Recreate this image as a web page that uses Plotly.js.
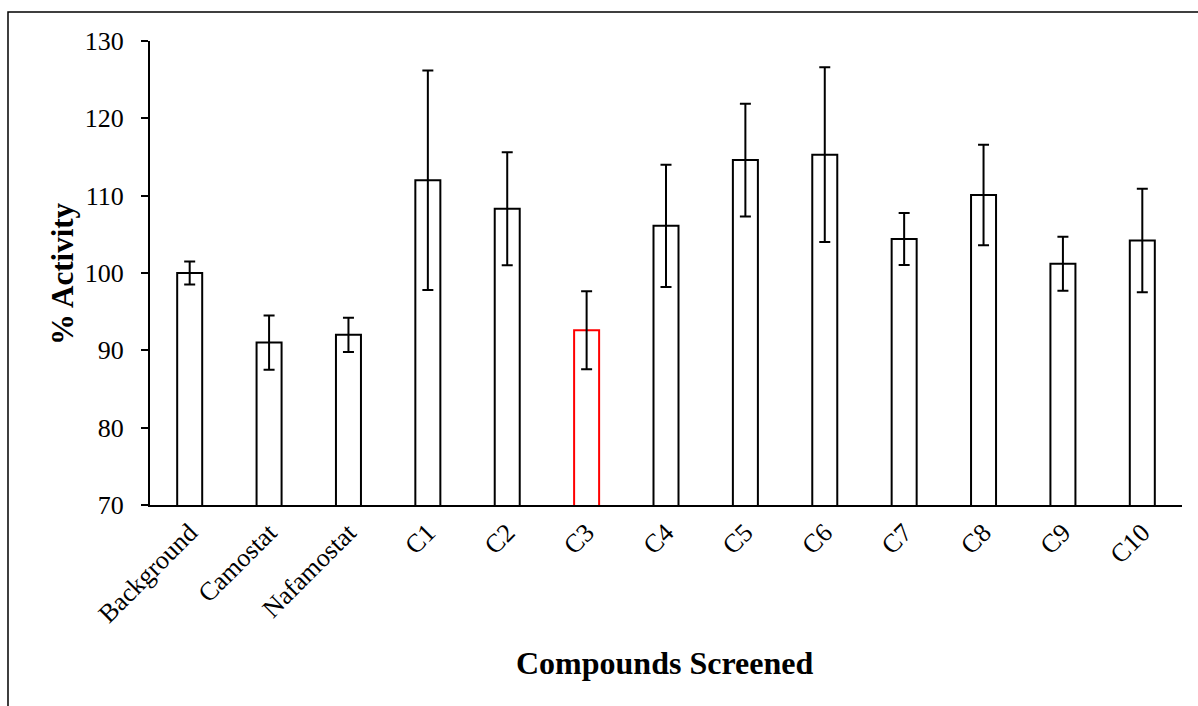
<!DOCTYPE html>
<html>
<head>
<meta charset="utf-8">
<script src="https://cdn.plot.ly/plotly-3.0.1.min.js"></script>
<style>
  html, body { margin: 0; padding: 0; background: #fff; }
  #chart { width: 1198px; height: 706px; }
</style>
</head>
<body>
<div id="chart"></div>
<script>
const categories = ["Background", "Camostat", "Nafamostat", "C1", "C2", "C3", "C4", "C5", "C6", "C7", "C8", "C9", "C10"];
const activity = [100.0, 91.0, 92.0, 112.0, 108.3, 92.6, 106.1, 114.6, 115.3, 104.4, 110.1, 101.2, 104.2];
const errors = [1.5, 3.5, 2.2, 14.2, 7.3, 5.05, 7.9, 7.3, 11.3, 3.35, 6.5, 3.5, 6.7];
const outlineColors = ["#000000", "#000000", "#000000", "#000000", "#000000", "#ff0000", "#000000", "#000000", "#000000", "#000000", "#000000", "#000000", "#000000"];
const yTicks = [70, 80, 90, 100, 110, 120, 130];
const xTitle = "Compounds Screened";
const yTitle = "% Activity";

const trace = {
  type: "bar",
  x: categories,
  y: activity,
  width: 0.315,
  marker: {
    color: "#ffffff",
    line: { color: outlineColors, width: 2 }
  },
  error_y: {
    type: "data",
    array: errors,
    visible: true,
    color: "#000000",
    thickness: 2,
    width: 5.5
  },
  hoverinfo: "x+y"
};

const titleFont = { family: "Liberation Serif, serif", size: 32, color: "#000000", weight: "bold" };

const layout = {
  width: 1198,
  height: 706,
  margin: { l: 150, r: 16, t: 41, b: 201 },
  paper_bgcolor: "#ffffff",
  plot_bgcolor: "#ffffff",
  showlegend: false,
  font: { family: "Liberation Serif, Times New Roman, serif", color: "#000000", size: 20 },
  xaxis: {
    type: "category",
    showline: true,
    linecolor: "#000000",
    linewidth: 2,
    ticks: "",
    tickangle: -45,
    tickfont: { family: "Liberation Serif, serif", size: 26, color: "#000000" },
    showgrid: false,
    zeroline: false,
    automargin: false,
    range: [-0.5, 12.5]
  },
  yaxis: {
    range: [70, 130],
    tickvals: yTicks,
    ticktext: yTicks.map(String),
    showline: true,
    linecolor: "#000000",
    linewidth: 2,
    ticks: "outside",
    ticklen: 7,
    tickwidth: 2,
    tickcolor: "#000000",
    ticklabelstandoff: 12,
    tickfont: { family: "Liberation Serif, serif", size: 26, color: "#000000" },
    showgrid: false,
    zeroline: false,
    automargin: false
  },
  annotations: [
    {
      text: xTitle, xref: "paper", yref: "paper",
      x: 0.499, y: -0.3405, xanchor: "center", yanchor: "middle",
      showarrow: false, font: titleFont
    },
    {
      text: yTitle, xref: "paper", yref: "paper",
      x: -0.0853, y: 0.5, xanchor: "center", yanchor: "middle",
      textangle: -90, showarrow: false,
      font: { family: "Liberation Serif, serif", size: 31, color: "#000000", weight: "bold" }
    }
  ],
  shapes: [{
    type: "rect",
    xref: "paper", yref: "paper",
    x0: -0.1376, x1: 1.03,
    y0: -0.47, y1: 1.0625,
    line: { color: "#000000", width: 1.5 },
    fillcolor: "rgba(0,0,0,0)",
    layer: "below"
  }]
};

Plotly.newPlot("chart", [trace], layout, { displayModeBar: false, staticPlot: true });
</script>
</body>
</html>
